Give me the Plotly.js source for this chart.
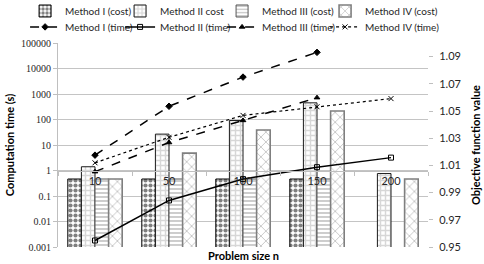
<!DOCTYPE html>
<html>
<head>
<meta charset="utf-8">
<script src="https://cdn.plot.ly/plotly-3.0.1.min.js"></script>
<style>html,body{margin:0;padding:0;background:#fff;}#chart{width:484px;height:264px;}</style>
</head>
<body>
<div id="chart"></div>
<script>
// Categories (problem size n)
const categories = ["10", "50", "100", "150", "200"];

// Objective function value (cost) — bars, right axis
const costI   = [1.000, 1.000, 1.000, 1.000, null];
const costII  = [1.009, 1.033, 1.043, 1.056, 1.004];
const costIII = [1.000, 1.000, 1.000, 1.000, null];
const costIV  = [1.000, 1.019, 1.036, 1.050, 1.000];

// Computation time (s) — lines, left log axis
const timeI   = [4.0, 330, 4600, 43000, null];
const timeII  = [0.0018, 0.067, 0.46, 1.35, 3.2];
const timeIII = [0.9, 12.5, 92, 720, null];
const timeIV  = [2.0, 20, 145, 316, 660];

// Tick labels for the log axis
const timeTickVals = [0.001, 0.01, 0.1, 1, 10, 100, 1000, 10000, 100000];
const timeTickText = ["0.001", "0.01", "0.1", "1", "10", "100", "1000", "10000", "100000"];

const sans = "Lato, 'Open Sans', sans-serif";
const dark = "#262626";
const legendWidths = [50, 57, 58, 80];

function barTrace(name, y, shape, fg, bg, size, sol, lineColor, lineWidth, lw) {
  return {
    type: "bar", name: name, x: categories, y: y, xaxis: "x", yaxis: "y",
    legend: "legend", legendwidth: lw,
    marker: {
      color: bg,
      line: {color: lineColor, width: lineWidth},
      pattern: {shape: shape, fgcolor: fg, bgcolor: bg, size: size, solidity: sol, fillmode: "overlay"}
    },
    hoverinfo: "skip"
  };
}
function lineTrace(name, y, dash, symbol, width, lw) {
  return {
    type: "scatter", mode: "lines+markers", name: name, x: categories, y: y,
    xaxis: "x", yaxis: "y2", connectgaps: false,
    legend: "legend2", legendwidth: lw,
    line: {color: "#000", width: width, dash: dash},
    marker: {symbol: symbol, size: 5, color: "#000", line: {color: "#000", width: 1}},
    hoverinfo: "skip"
  };
}

const data = [
  barTrace("Method I (cost)", costI, ".", "#000", "#fff", 5, 0.55, "#000", 1, legendWidths[0]),
  barTrace("Method II cost", costII, "+", "#b0b0b0", "#fff", 5, 0.5, "#1a1a1a", 1, legendWidths[1]),
  barTrace("Method III (cost)", costIII, "-", "#5a5a5a", "#fff", 4, 0.3, "#555", 1, legendWidths[2]),
  barTrace("Method IV (cost)", costIV, "x", "#3a3a3a", "#fff", 7, 0.15, "#7f7f7f", 1.6, legendWidths[3]),
  lineTrace("Method I (time)", timeI, "dash", "diamond", 1.5, legendWidths[0]),
  lineTrace("Method II (time)", timeII, "solid", "square-open", 1.5, legendWidths[1]),
  lineTrace("Method III (time)", timeIII, "dash", "triangle-up", 1.5, legendWidths[2]),
  lineTrace("Method IV (time)", timeIV, "dot", "x-thin-open", 1.2, legendWidths[3])
];

const legendBase = {
  orientation: "h", xanchor: "left", yanchor: "top",
  font: {family: sans, size: 10, color: dark},
  itemwidth: 30, entrywidthmode: "pixels",
  tracegroupgap: 0, traceorder: "normal", bgcolor: "rgba(0,0,0,0)", borderwidth: 0
};

const layout = {
  width: 484, height: 264,
  margin: {l: 58, r: 56, t: 43, b: 17, pad: 0, autoexpand: false},
  paper_bgcolor: "#fff", plot_bgcolor: "#fff",
  font: {family: sans, size: 10, color: dark},
  barmode: "group", bargap: 0.265, bargroupgap: 0,
  showlegend: true,
  legend: Object.assign({}, legendBase, {x: -0.089, y: 1.228}),
  legend2: Object.assign({}, legendBase, {x: -0.089, y: 1.150}),
  xaxis: {
    type: "category", anchor: "free", position: 0.375,
    showline: true, linecolor: "#bfbfbf", linewidth: 1,
    ticks: "outside", tickson: "boundaries", ticklen: 4, tickcolor: "#bfbfbf",
    showgrid: false, zeroline: false,
    tickfont: {family: sans, size: 11, color: dark},
    fixedrange: true
  },
  yaxis: {
    type: "linear", side: "right", anchor: "x",
    range: [0.95, 1.10], tick0: 0.95, dtick: 0.02, tickformat: ".2f",
    showgrid: false, zeroline: false, showline: false,
    ticks: "outside", ticklen: 4, tickcolor: "#bfbfbf", ticklabelstandoff: 4,
    tickfont: {family: sans, size: 11, color: dark},
    title: {text: "Objective function value", font: {family: sans, size: 11, color: "#000", weight: "bold"}, standoff: 12},
    fixedrange: true
  },
  yaxis2: {
    type: "log", side: "left", overlaying: "y", anchor: "x",
    range: [-3, 5], tickvals: timeTickVals, ticktext: timeTickText,
    showgrid: true, gridcolor: "#c4c4c4", gridwidth: 1,
    zeroline: false, showline: true, linecolor: "#bfbfbf", linewidth: 1,
    ticks: "outside", ticklen: 4, tickcolor: "#bfbfbf",
    tickfont: {family: "'Liberation Serif', serif", size: 10, color: dark},
    title: {text: "Computation time (s)", font: {family: sans, size: 11, color: "#000", weight: "bold"}, standoff: 4},
    fixedrange: true
  },
  annotations: [{
    text: "<b>Problem size n</b>", xref: "paper", yref: "paper",
    x: 0.5, y: -0.04, xanchor: "center", yanchor: "middle", showarrow: false,
    font: {family: sans, size: 11, color: "#000"}
  }]
};

Plotly.newPlot("chart", data, layout, {staticPlot: true, displayModeBar: false});
</script>
</body>
</html>
